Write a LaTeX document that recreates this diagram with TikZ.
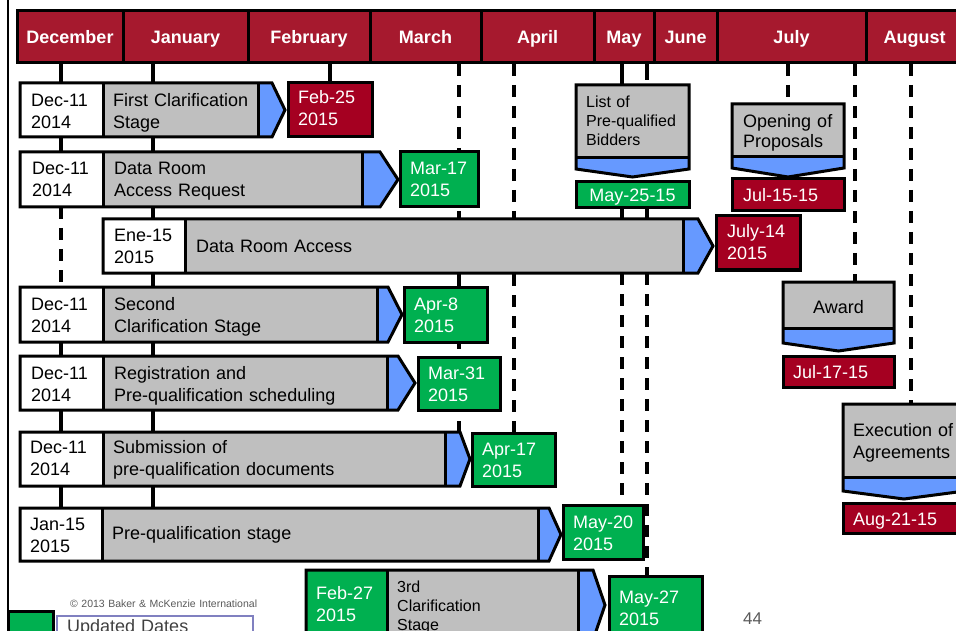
\documentclass[tikz,border=0pt]{standalone}
\usepackage{fontspec}
\setmainfont{Liberation Sans}
\definecolor{hdrred}{HTML}{A6192E}
\definecolor{datered}{HTML}{A50021}
\definecolor{dategreen}{HTML}{00B050}
\definecolor{stagegray}{HTML}{BFBFBF}
\definecolor{arrowblue}{HTML}{6699FF}
\definecolor{notegray}{HTML}{595959}
\definecolor{legendline}{HTML}{8080C0}

% task bar: name, y0, y1, x0, x(date|stage), x(stage|arrow), x(arrow shoulder), x(tip), date fill
\newcommand\taskbar[9]{%
  \fill[#9] (#4,#2) rectangle (#5,#3);
  \fill[stagegray] (#5,#2) rectangle (#6,#3);
  \fill[arrowblue] (#6,#2) -- (#7,#2) -- (#8,{(#2+#3)/2}) -- (#7,#3) -- (#6,#3) -- cycle;
  \draw[outl] (#4,#2) -- (#7,#2) -- (#8,{(#2+#3)/2}) coordinate (#1-tip) -- (#7,#3) -- (#4,#3) -- cycle;
  \draw[outl] (#5,#2) -- (#5,#3) (#6,#2) -- (#6,#3);
}
% milestone box with a downward chevron: x0, x1, ytop, y(gray|blue), yside, ytip
\newcommand\milestone[6]{%
  \fill[stagegray] (#1,#3) rectangle (#2,#4);
  \fill[arrowblue] (#1,#4) -- (#2,#4) -- (#2,#5) -- ({(#1+#2)/2},#6) -- (#1,#5) -- cycle;
  \draw[outl] (#1,#3) -- (#2,#3) -- (#2,#5) -- ({(#1+#2)/2},#6) -- (#1,#5) -- cycle;
  \draw[outl] (#1,#4) -- (#2,#4);
}

\begin{document}
\begin{tikzpicture}[x=1pt,y=-1pt,
  outl/.style={line width=3pt, line join=miter},
  vline/.style={line width=3.5pt},
  dline/.style={line width=3.5pt, dash pattern=on 12pt off 9pt},
  endbox/.style={outl, fill=#1},
  txt/.style={inner sep=0pt, anchor=base west, align=left, text width=300pt,
    font=\fontsize{18}{22}\selectfont},
  wtxt/.style={txt, text=white},
  smalltxt/.style={txt, font=\fontsize{16}{19}\selectfont},
  month/.style={inner sep=0pt, anchor=base, text=white,
    font=\bfseries\fontsize{18}{22}\selectfont}]
\useasboundingbox (0,0) rectangle (956,631);
\clip (0,0) rectangle (956,631);

% page frame on the left
\coordinate (frameTop) at (8,0);
\coordinate (frameBot) at (8,611);
\draw[line width=2pt] (frameTop) -- (frameBot);

% ---- month guide lines (drawn first, boxes cover them)
\coordinate (decA) at (61,64);  \coordinate (decB) at (61,207);
\coordinate (decC) at (61,287); \coordinate (decD) at (61,508);
\draw[vline] (decA) -- (decB); \draw[dline] (decB) -- (decC); \draw[vline] (decC) -- (decD);

\coordinate (janA) at (153,64); \coordinate (janB) at (153,508);
\draw[vline] (janA) -- (janB);

\coordinate (febA) at (330,64); \coordinate (febB) at (330,84);
\draw[vline] (febA) -- (febB);

\coordinate (marA) at (459,64); \coordinate (marB) at (459,432);
\draw[dline] (marA) -- (marB);

\coordinate (aprA) at (514,64); \coordinate (aprB) at (514,433);
\draw[dline] (aprA) -- (aprB);

\coordinate (mayA) at (622,64);  \coordinate (mayB) at (622,86);
\coordinate (mayC) at (622,207); \coordinate (mayD) at (622,220);
\coordinate (mayE) at (622,273); \coordinate (mayF) at (622,505);
\draw[vline] (mayA) -- (mayB); \draw[vline] (mayC) -- (mayD); \draw[dline] (mayE) -- (mayF);

\coordinate (junA) at (647,64);  \coordinate (junB) at (647,80);
\coordinate (junC) at (647,207); \coordinate (junD) at (647,220);
\coordinate (junE) at (647,273); \coordinate (junF) at (647,576);
\draw[vline] (junA) -- (junB); \draw[vline] (junC) -- (junD); \draw[dline] (junE) -- (junF);

\coordinate (julA) at (788,64); \coordinate (julB) at (788,104);
\draw[dline] (julA) -- (julB);

\coordinate (julendA) at (855,64); \coordinate (julendB) at (855,282);
\draw[dline] (julendA) -- (julendB);

\coordinate (augA) at (911,64); \coordinate (augB) at (911,404);
\draw[dline] (augA) -- (augB);

% ---- month header
\fill[hdrred] (17,11) rectangle (963,63);
\draw[outl] (17,11) rectangle (963,63);
\foreach \x in {123,248,370,481,594,654,717,866} \draw[outl] (\x,11) -- (\x,63);
\node[month] (mDec) at (70,44) {December};
\node[month] (mJan) at (185.5,44) {January};
\node[month] (mFeb) at (309,44) {February};
\node[month] (mMar) at (425.5,44) {March};
\node[month] (mApr) at (537.5,44) {April};
\node[month] (mMay) at (624,44) {May};
\node[month] (mJun) at (685.5,44) {June};
\node[month] (mJul) at (791.5,44) {July};
\node[month] (mAug) at (914.5,44) {August};

% ---- task bars
\taskbar{r1}{83}{137}{20}{103}{258}{272}{285}{white}
\draw[endbox=datered] (288,83) rectangle (372,137);
\node[txt] (r1a) at (31,107) {Dec-11\\2014};
\node[txt] (r1b) at (113,107) {First Clarification\\Stage};
\node[wtxt] (r1c) at (298,104) {Feb-25\\2015};

\taskbar{r2}{152}{207}{20}{103}{362}{380}{398}{white}
\draw[endbox=dategreen] (400,152) rectangle (478,207);
\node[txt] (r2a) at (32,175) {Dec-11\\2014};
\node[txt] (r2b) at (114,175) {Data Room\\Access Request};
\node[wtxt] (r2c) at (410,175) {Mar-17\\2015};

\taskbar{r3}{219}{273}{103}{185}{683}{698}{713}{white}
\draw[endbox=datered] (716,216) rectangle (800,270);
\node[txt] (r3a) at (114,242) {Ene-15\\2015};
\node[txt] (r3b) at (196,253) {Data Room Access};
\node[wtxt] (r3c) at (727,238) {July-14\\2015};

\taskbar{r4}{287}{342}{20}{103}{377}{388}{402}{white}
\draw[endbox=dategreen] (404,287) rectangle (487,342);
\node[txt] (r4a) at (31,310) {Dec-11\\2014};
\node[txt] (r4b) at (114,310) {Second\\Clarification Stage};
\node[wtxt] (r4c) at (414,310) {Apr-8\\2015};

\taskbar{r5}{356}{410}{20}{103}{387}{398}{415}{white}
\draw[endbox=dategreen] (418,357) rectangle (500,410);
\node[txt] (r5a) at (31,379) {Dec-11\\2014};
\node[txt] (r5b) at (114,379) {Registration and\\Pre-qualification scheduling};
\node[wtxt] (r5c) at (428,379) {Mar-31\\2015};

\taskbar{r6}{432}{486}{20}{103}{445}{460}{470}{white}
\draw[endbox=dategreen] (472,433) rectangle (555,486);
\node[txt] (r6a) at (30,453) {Dec-11\\2014};
\node[txt] (r6b) at (113,453) {Submission of\\pre-qualification documents};
\node[wtxt] (r6c) at (482,455) {Apr-17\\2015};

\taskbar{r7}{508}{561}{20}{102}{538}{549}{561}{white}
\draw[endbox=dategreen] (563,505) rectangle (643,559);
\node[txt] (r7a) at (30,530) {Jan-15\\2015};
\node[txt] (r7b) at (112,539) {Pre-qualification stage};
\node[wtxt] (r7c) at (573,528) {May-20\\2015};

\taskbar{r8}{570}{640}{306}{387}{578}{593}{605}{dategreen}
\draw[endbox=dategreen] (609,576) rectangle (702,660);
\node[wtxt] (r8a) at (316,599) {Feb-27\\2015};
\node[smalltxt] (r8b) at (397,592) {3rd\\Clarification\\Stage};
\node[wtxt] (r8c) at (619,603) {May-27\\2015};

% ---- milestones
\milestone{576}{689}{85}{158}{169}{177}
\draw[endbox=dategreen] (576,182) rectangle (689,208);
\node[smalltxt] (m1a) at (586,108) {List of\\Pre-qualified\\Bidders};
\node[inner sep=0pt, anchor=base, text=white, font=\fontsize{18}{22}\selectfont] (m1b) at (632.5,202) {May-25-15};

\milestone{732}{844}{104}{157}{168}{177}
\draw[endbox=datered] (732,179) rectangle (844,211);
\node[txt, font=\fontsize{18}{20}\selectfont] (m2a) at (743,128) {Opening of\\Proposals};
\node[wtxt] (m2b) at (743,202) {Jul-15-15};

\milestone{783}{894}{282}{328}{343}{351}
\draw[endbox=datered] (783,356) rectangle (894,387);
\node[inner sep=0pt, anchor=base, font=\fontsize{18}{22}\selectfont] (m3a) at (838.5,313) {Award};
\node[wtxt] (m3b) at (793,378) {Jul-17-15};

\milestone{843}{965}{404}{477}{491}{499}
\draw[endbox=datered] (843,503) rectangle (965,533);
\node[txt] (m4a) at (853,436) {Execution of\\Agreements};
\node[wtxt] (m4b) at (853,525) {Aug-21-15};

% ---- footer
\draw[endbox=dategreen] (8,611) rectangle (53,660);
\draw[draw=legendline, line width=1.5pt] (57,616) rectangle (253,660);
\node[txt, text=black!75] (legend) at (67,632) {Updated Dates};
\node[txt, text=notegray, font=\fontsize{10.5}{12}\selectfont] (copy) at (70,607) {\textcopyright{} 2013 Baker \& McKenzie International};
\node[txt, text=notegray, font=\fontsize{17}{20}\selectfont] (page) at (743,624) {44};
\end{tikzpicture}
\end{document}
